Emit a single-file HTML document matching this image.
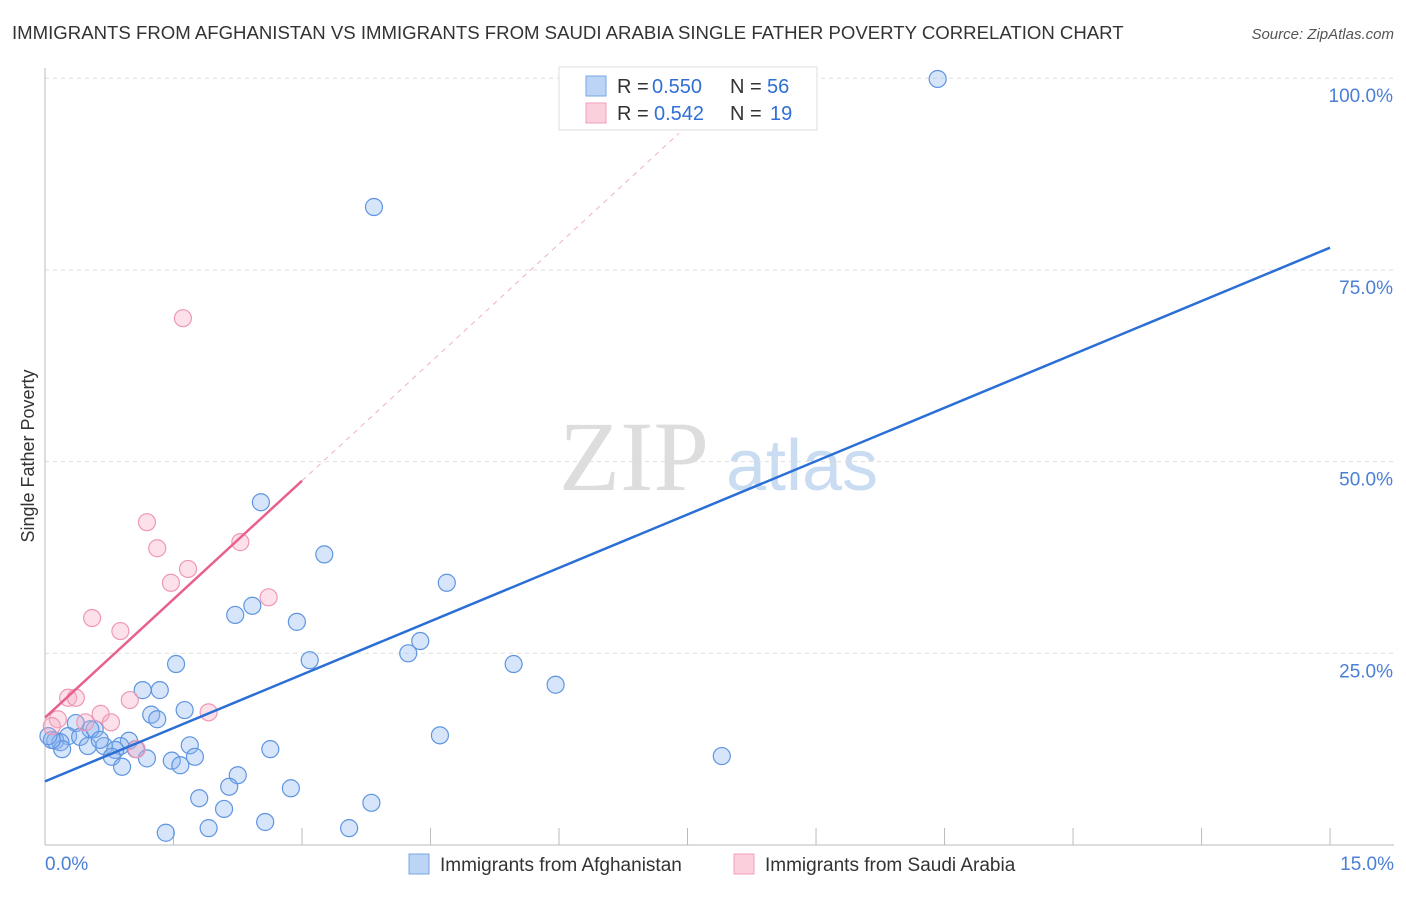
<!DOCTYPE html>
<html><head><meta charset="utf-8"><style>
body{margin:0;background:#fff;font-family:"Liberation Sans",sans-serif}
</style></head><body>
<svg id="c" width="1406" height="892" font-family="Liberation Sans, sans-serif">
<text x="12" y="39" font-size="18.6" fill="#333">IMMIGRANTS FROM AFGHANISTAN VS IMMIGRANTS FROM SAUDI ARABIA SINGLE FATHER POVERTY CORRELATION CHART</text>
<text x="1394" y="39" font-size="15" fill="#555" font-style="italic" text-anchor="end">Source: ZipAtlas.com</text>
<text x="34" y="456" font-size="18" fill="#333" text-anchor="middle" transform="rotate(-90 34 456)">Single Father Poverty</text>
<g><text x="634" y="490" font-size="100" fill="#ddd" font-family="Liberation Serif, serif" text-anchor="middle">ZIP</text><text x="802" y="490" font-size="72" fill="#c9dcf2" text-anchor="middle">atlas</text></g>
<g id="grid"></g><g id="marks"></g>
<g>
<rect x="559" y="67" width="258" height="63" fill="#fff" stroke="#ddd"/>
<rect x="586" y="76" width="20" height="20" fill="#bcd4f6" stroke="#7aa6e6"/>
<rect x="586" y="103" width="20" height="20" fill="#fbd0dc" stroke="#f0a0b8"/>
<text x="617" y="93" font-size="20" fill="#333">R =</text><text x="652" y="93" font-size="20" fill="#2f6fd6">0.550</text>
<text x="730" y="93" font-size="20" fill="#333">N =</text><text x="767" y="93" font-size="20" fill="#2f6fd6">56</text>
<text x="617" y="120" font-size="20" fill="#333">R =</text><text x="654" y="120" font-size="20" fill="#2f6fd6">0.542</text>
<text x="730" y="120" font-size="20" fill="#333">N =</text><text x="770" y="120" font-size="20" fill="#2f6fd6">19</text>
</g>
<g>
<rect x="409" y="854" width="20" height="20" fill="#bcd4f6" stroke="#7aa6e6"/>
<text x="440" y="871" font-size="19" fill="#333">Immigrants from Afghanistan</text>
<rect x="734" y="854" width="20" height="20" fill="#fbd0dc" stroke="#f0a0b8"/>
<text x="765" y="871" font-size="19" fill="#333">Immigrants from Saudi Arabia</text>
</g>
</svg>
<script>
const yTicks=[25,50,75,100];
const yTickLabels=["25.0%","50.0%","75.0%","100.0%"];
const xTicks=[0,1.5,3,4.5,6,7.5,9,10.5,12,13.5,15];
const blueX=[10.42,3.84,2.52,3.26,4.69,2.42,2.22,2.94,4.38,4.24,3.09,5.47,1.53,5.96,1.14,1.34,1.63,1.24,1.31,0.36,0.58,0.53,0.27,0.41,0.12,0.18,4.61,0.98,1.69,0.88,0.69,0.50,0.20,0.82,1.06,2.63,1.75,0.78,1.48,1.19,1.58,0.90,7.90,2.25,2.15,2.87,1.80,3.81,2.09,2.57,1.91,3.55,1.41,0.08,0.04,0.64];
const blueY=[99.9,83.2,44.7,37.9,34.2,31.2,30.0,29.1,26.6,25.0,24.1,23.6,23.6,20.9,20.2,20.2,17.6,17.0,16.4,15.9,15.1,15.1,14.2,14.1,13.6,13.4,14.3,13.6,13.0,12.9,12.9,12.9,12.5,12.4,12.5,12.5,11.5,11.5,11.0,11.3,10.4,10.2,11.6,9.1,7.6,7.4,6.1,5.5,4.7,3.0,2.2,2.2,1.6,13.7,14.2,13.7];
const pinkX=[1.61,1.19,1.31,2.28,1.67,1.47,2.61,0.55,0.88,0.27,0.36,0.99,1.91,0.65,0.77,0.47,0.15,0.08,1.07];
const pinkY=[68.7,42.1,38.7,39.5,36.0,34.2,32.3,29.6,27.9,19.2,19.2,18.9,17.3,17.1,16.0,16.0,16.4,15.5,12.5];
const blueFit=[8.3,4.64]; // intercept, slope
const pinkFit=[16.6,10.3];
const X=v=>45+v*85.67, Y=v=>845-v*7.668;
const NS="http://www.w3.org/2000/svg";
function mk(tag,attrs,parent){const e=document.createElementNS(NS,tag);for(const k in attrs)e.setAttribute(k,attrs[k]);parent.appendChild(e);return e;}
const g=document.getElementById('grid'),m=document.getElementById('marks');
yTicks.forEach((t,i)=>{
 const l=mk('line',{x1:45,x2:1394,y1:Y(t),y2:Y(t),stroke:'#ddd','stroke-dasharray':'4,4'},g);
 
 
 const tx=mk('text',{x:1393,y:Y(t)+24,'font-size':19,fill:'#4a7fd6','text-anchor':'end'},g);tx.textContent=yTickLabels[i];
 
 
});
mk('line',{x1:45,x2:45,y1:68,y2:845,stroke:'#bbb'},g);
mk('line',{x1:45,x2:1394,y1:845,y2:845,stroke:'#bbb'},g);
xTicks.forEach(t=>{const l=mk('line',{x1:X(t),x2:X(t),y1:828,y2:845,stroke:'#bbb'},g);
 
 });
const x0=mk('text',{x:45,y:870,'font-size':19,fill:'#4a7fd6'},g);x0.textContent="0.0%";


const x1=mk('text',{x:1394,y:870,'font-size':19,fill:'#4a7fd6','text-anchor':'end'},g);x1.textContent="15.0%";


blueX.forEach((v,i)=>{const c=mk('circle',{cx:X(v),cy:Y(blueY[i]),r:8.5,fill:'rgba(140,180,240,0.35)',stroke:'#5f95e0','stroke-width':1.2},m);
 
 });
pinkX.forEach((v,i)=>{const c=mk('circle',{cx:X(v),cy:Y(pinkY[i]),r:8.5,fill:'rgba(245,170,195,0.35)',stroke:'#ee98b4','stroke-width':1.2},m);
 
 });
const pd=mk('line',{x1:X(3),y1:Y(pinkFit[0]+pinkFit[1]*3),x2:X(7.4),y2:Y(pinkFit[0]+pinkFit[1]*7.4),stroke:'#f0b0c4','stroke-dasharray':'5,5'},m);


const pl=mk('line',{x1:X(0),y1:Y(pinkFit[0]),x2:X(3),y2:Y(pinkFit[0]+pinkFit[1]*3),stroke:'#e8608c','stroke-width':2.5},m);


const bl=mk('line',{x1:X(0),y1:Y(blueFit[0]),x2:X(15),y2:Y(blueFit[0]+blueFit[1]*15),stroke:'#2a6fd6','stroke-width':2.5},m);


</script>
</body></html>
